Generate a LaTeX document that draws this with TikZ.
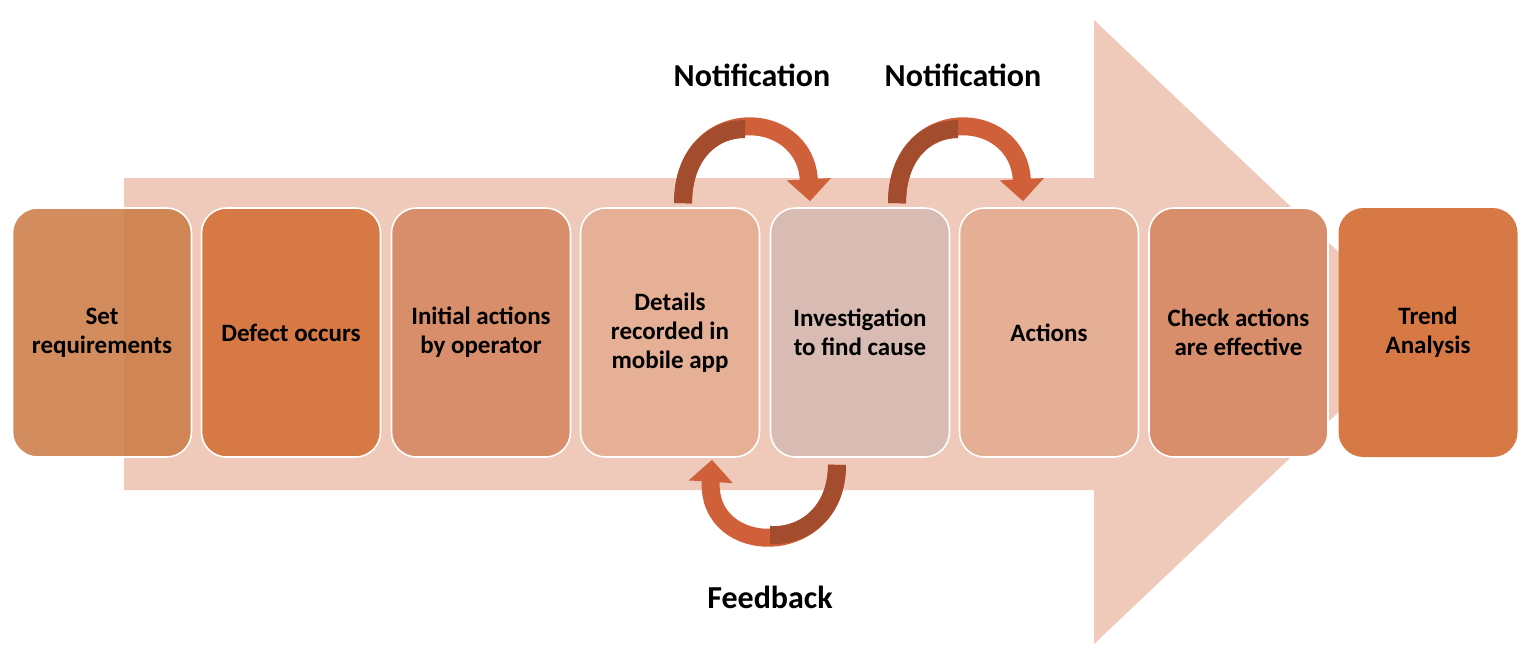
\documentclass[tikz,border=0pt]{standalone}
\usepackage{fontspec}
\setmainfont{Carlito}
\usetikzlibrary{positioning,arrows.meta,calc}
\definecolor{shaftcol}{HTML}{EFC9B9}
\definecolor{reqcol}{RGB}{204,124,72}
\definecolor{defectcol}{HTML}{D77944}
\definecolor{initcol}{HTML}{D98E6B}
\definecolor{detailcol}{HTML}{E5B096}
\definecolor{investcol}{HTML}{D8BBB2}
\definecolor{actcol}{HTML}{E5AF95}
\definecolor{loopdarkcol}{HTML}{A44C2E}
\definecolor{looplightcol}{HTML}{D0603A}
\tikzset{
  stepbox/.style={draw=white, line width=0.8pt, rounded corners=12.5pt, minimum width=89.5pt, minimum height=124.5pt, inner sep=0pt, align=center, font=\bfseries\fontsize{12.5}{14.5}\selectfont},
  loopmain/.style={line width=9pt, draw=looplightcol, -{Triangle[length=11pt, width=21.5pt]}},
  loopdark/.style={line width=9pt, draw=loopdarkcol},
  looplabel/.style={font=\bfseries\fontsize{16}{19}\selectfont}
}

\begin{document}
\begin{tikzpicture}[x=0.5pt, y=-0.5pt]
  \useasboundingbox (0,0) rectangle (1536,654);
  \fill[shaftcol] (124,178) -- (1094,178) -- (1094,20) -- (1423,332) -- (1094,644) -- (1094,490) -- (124,490) -- cycle;

  \node[stepbox, fill=reqcol, fill opacity=0.88, text opacity=1] (req) at (102,332.5) {Set\\requirements};
  \node[stepbox, fill=defectcol] (defect) at (291,332.5) {Defect occurs};
  \node[stepbox, fill=initcol] (initial) at (481,332.5) {Initial actions\\by operator};
  \node[stepbox, fill=detailcol] (details) at (670,332.5) {Details\\recorded in\\mobile app};
  \node[stepbox, fill=investcol] (invest) at (860,332.5) {Investigation\\to find cause};
  \node[stepbox, fill=actcol] (actions) at (1049,332.5) {Actions};
  \node[stepbox, fill=initcol] (check) at (1238.5,332.5) {Check actions\\are effective};
  \node[stepbox, fill=defectcol, draw=none] (trend) at (1428,332.5) {Trend\\Analysis};

  \draw[loopmain] ($(details.north)+(13,-4)$) .. controls +(0,-100) and +(-5,-95) .. ($(invest.north)+(-50,-6)$);
  \begin{scope}
    \clip (600,90) rectangle (745,215);
    \draw[loopdark] ($(details.north)+(13,-4)$) .. controls +(0,-100) and +(-5,-95) .. ($(invest.north)+(-50,-6)$);
  \end{scope}

  \draw[loopmain] ($(invest.north)+(37,-4)$) .. controls +(0,-100) and +(-5,-95) .. ($(actions.north)+(-26,-6)$);
  \begin{scope}
    \clip (820,90) rectangle (958,215);
    \draw[loopdark] ($(invest.north)+(37,-4)$) .. controls +(0,-100) and +(-5,-95) .. ($(actions.north)+(-26,-6)$);
  \end{scope}

  \draw[loopmain] ($(invest.south)+(-23,7)$) .. controls +(0,95) and +(-6,99) .. ($(details.south)+(42,2)$);
  \begin{scope}
    \clip (770,455) rectangle (880,565);
    \draw[loopdark] ($(invest.south)+(-23,7)$) .. controls +(0,95) and +(-6,99) .. ($(details.south)+(42,2)$);
  \end{scope}

  \node[looplabel] (note1) at (752,75) {Notification};
  \node[looplabel] (note2) at (963,75) {Notification};
  \node[looplabel] (back) at (770,597) {Feedback};
\end{tikzpicture}
\end{document}
